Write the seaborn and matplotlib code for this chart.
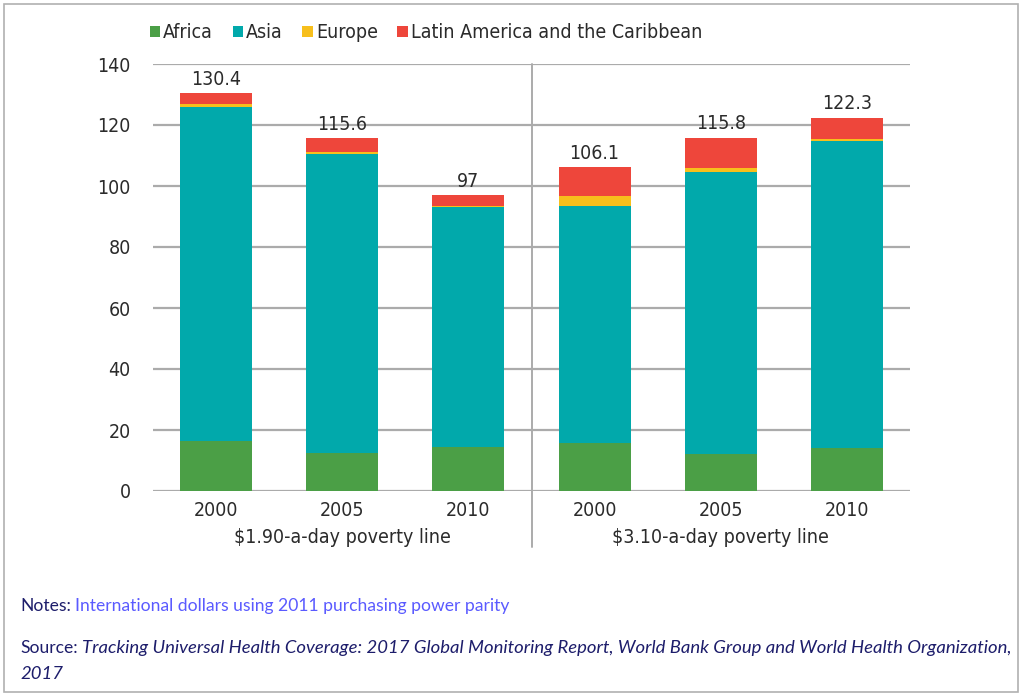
import numpy as np
import pandas as pd
import matplotlib
matplotlib.use("Agg")
import matplotlib.pyplot as plt
import seaborn as sns
from matplotlib import font_manager as fm
from matplotlib.patches import Patch, Rectangle

# ── Data ─────────────────────────────────────────────────────────────────────
years = ["2000", "2005", "2010", "2000", "2005", "2010"]
poverty_lines = ["$1.90-a-day poverty line"] * 3 + ["$3.10-a-day poverty line"] * 3
regions = ["Africa", "Asia", "Europe", "Latin America and the Caribbean"]
africa = [16.4, 12.4, 14.5, 15.6, 12.0, 14.2]
asia = [109.6, 98.1, 78.7, 77.8, 92.7, 100.7]
europe = [0.8, 0.5, 0.4, 3.4, 1.1, 0.4]
latam = [3.6, 4.6, 3.4, 9.3, 10.0, 7.0]
totals = [130.4, 115.6, 97, 106.1, 115.8, 122.3]
total_labels = ["130.4", "115.6", "97", "106.1", "115.8", "122.3"]
yticks = [0, 20, 40, 60, 80, 100, 120, 140]

colors = {
    "Africa": "#4b9f46",
    "Asia": "#01a9ab",
    "Europe": "#f7bf1c",
    "Latin America and the Caribbean": "#ee463b",
}


def find_condensed():
    """Look for a narrow sans font, close to the condensed face of the original."""
    for f in fm.fontManager.ttflist:
        if ("Narrow" in f.fname or "Condensed" in f.fname) and f.style == "normal" \
                and "Bold" not in f.fname:
            return f.fname
    return None


cond_path = find_condensed()


def cfont(size):
    if cond_path:
        return fm.FontProperties(fname=cond_path, size=size)
    return fm.FontProperties(family=["Roboto", "DejaVu Sans"], size=size * 0.9)


# ── Build stacked table (cumulative tops) ───────────────────────────────────
keys = [f"{p}|{y}" for p, y in zip(poverty_lines, years)]
df = pd.DataFrame({
    "key": keys,
    "Africa": africa,
    "Asia": asia,
    "Europe": europe,
    "Latin America and the Caribbean": latam,
})
cum = df[regions].cumsum(axis=1)
cum["Latin America and the Caribbean"] = totals

# ── Figure ───────────────────────────────────────────────────────────────────
sns.set_theme(style="white")
plt.rcParams["font.family"] = ["DejaVu Sans"]
text_col = "#2b2b2b"
fsize = 14

fig = plt.figure(figsize=(10.24, 6.96), dpi=100)
ax = fig.add_axes([153 / 1024, 1 - 491 / 696, 757 / 1024, 427 / 696])

for reg in reversed(regions):
    sns.barplot(x=df["key"], y=cum[reg], order=keys, color=colors[reg],
                width=0.57, linewidth=0, saturation=1, ax=ax, zorder=3)

ax.set_ylim(0, 140)
ax.set_xlim(-0.5, 5.5)
ax.set_yticks(yticks)
ax.set_yticklabels([str(t) for t in yticks], fontproperties=cfont(fsize), color=text_col)
ax.set_xticks(range(len(years)))
ax.set_xticklabels(years, fontproperties=cfont(fsize), color=text_col)
ax.tick_params(axis="x", length=0, pad=7)
ax.tick_params(axis="y", length=0, pad=16)
ax.set_xlabel("")
ax.set_ylabel("")
for s in ax.spines.values():
    s.set_visible(False)
ax.yaxis.grid(True, color="#ababab", linewidth=1.6, zorder=0)
ax.set_axisbelow(True)

# divider between poverty lines
ax.plot([2.5, 2.5], [-0.13, 1], transform=ax.get_xaxis_transform(), color="#ababab",
        linewidth=1.4, clip_on=False, zorder=1)

# total labels
for i, (t, lab) in enumerate(zip(totals, total_labels)):
    ax.text(i, t + 1.5, lab, ha="center", va="bottom", fontproperties=cfont(fsize),
            color=text_col)

# group labels
for i0, name in [(1, poverty_lines[0]), (4, poverty_lines[3])]:
    ax.text(i0, -0.11, name, transform=ax.get_xaxis_transform(), ha="center",
            va="center", fontproperties=cfont(fsize), color=text_col)

# legend
handles = [Patch(facecolor=colors[r], edgecolor="none") for r in regions]
fig.legend(handles, regions, loc="center", bbox_to_anchor=(426 / 1024, 1 - 33 / 696),
           ncol=4, frameon=False, prop=cfont(fsize), handlelength=0.55, handleheight=0.55,
           handletextpad=0.15, columnspacing=1.0, labelcolor=text_col)

# notes and source
note_font = ["Lato", "DejaVu Sans"]
navy = "#1d1d6b"
blue = "#5a5aff"
fig.text(20 / 1024, 1 - 606 / 696, "Notes:", fontsize=12.6, color=navy, family=note_font,
         va="center")
fig.text(75 / 1024, 1 - 606 / 696, "International dollars using 2011 purchasing power parity",
         fontsize=12.6, color=blue, family=note_font, va="center")
fig.text(20 / 1024, 1 - 648 / 696, "Source:", fontsize=12.6, color=navy, family=note_font,
         va="center")
fig.text(82 / 1024, 1 - 648 / 696,
         "Tracking Universal Health Coverage: 2017 Global Monitoring Report, World Bank Group and World Health Organization,",
         fontsize=13.3, color=navy, family=note_font, style="italic", va="center")
fig.text(20 / 1024, 1 - 674 / 696, "2017", fontsize=13.3, color=navy, family=note_font,
         style="italic", va="center")

# outer frame
fig.patches.append(Rectangle((4 / 1024, 4 / 696), 1014 / 1024, 688 / 696, transform=fig.transFigure,
                             fill=False, edgecolor="#b0b0b0", linewidth=1.2))

fig.savefig("out.png", dpi=100)
